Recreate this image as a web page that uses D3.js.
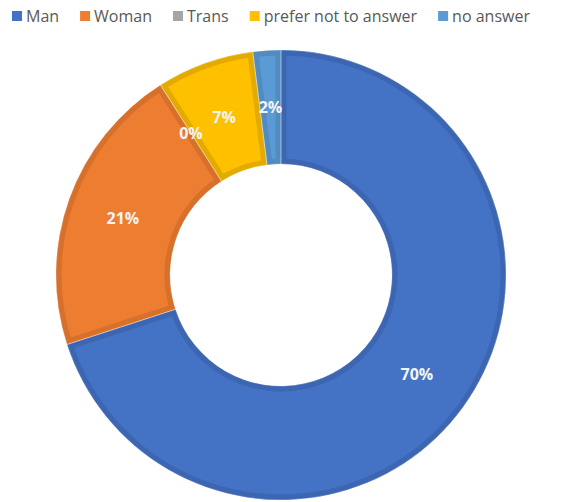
<!DOCTYPE html>
<html>
<head>
<meta charset="utf-8">
<script src="https://cdn.jsdelivr.net/npm/d3@7/dist/d3.min.js"></script>
<style>
  html, body { margin: 0; padding: 0; background: #fff; }
  svg { display: block; }
</style>
</head>
<body>
<svg id="chart" width="571" height="502"></svg>
<script>
// Gender breakdown of respondents (percent)
const categories = ["Man", "Woman", "Trans", "prefer not to answer", "no answer"];
const shares = [70, 21, 0, 7, 2];
const labels = ["70%", "21%", "0%", "7%", "2%"];
const fills = ["#4472C4", "#ED7D31", "#A5A5A5", "#FFC000", "#5B9BD5"];
const edges = ["#3D66B2", "#D6702B", "#959595", "#E3AB00", "#518BC0"];

const cx = 281, cy = 275;
const outerR = 225, innerR = 111;

const svg = d3.select("#chart");
const font = "'Open Sans', 'Liberation Sans', sans-serif";

const color = d3.scaleOrdinal().domain(categories).range(fills);
const edge = d3.scaleOrdinal().domain(categories).range(edges);

const data = categories.map((c, i) => ({ name: c, value: shares[i], label: labels[i] }));

const pie = d3.pie().value(d => d.value).sort(null);
const arc = d3.arc().innerRadius(innerR).outerRadius(outerR);
const arcs = pie(data);

const defs = svg.append("defs");
const g = svg.append("g").attr("transform", `translate(${cx},${cy})`);

// Each slice: flat fill plus a darker inset border (stroke clipped to the slice)
arcs.forEach((a, i) => {
  if (a.endAngle - a.startAngle <= 0) return;
  const id = "clip-" + i;
  defs.append("clipPath").attr("id", id)
    .append("path").attr("d", arc(a));
  g.append("path")
    .attr("d", arc(a))
    .attr("fill", color(a.data.name))
    .attr("stroke", edge(a.data.name))
    .attr("stroke-width", 11)
    .attr("stroke-linejoin", "miter")
    .attr("clip-path", `url(#${id})`);
});

// Fine light seam between neighbouring slices
arcs.forEach(a => {
  if (a.endAngle - a.startAngle <= 0) return;
  g.append("path")
    .attr("d", arc(a))
    .attr("fill", "none")
    .attr("stroke", "rgba(255,255,255,0.3)")
    .attr("stroke-width", 1);
});

// Value labels at slice centroids
g.selectAll("text.val")
  .data(arcs)
  .join("text")
  .attr("class", "val")
  .attr("transform", d => `translate(${arc.centroid(d)})`)
  .attr("text-anchor", "middle")
  .attr("dominant-baseline", "central")
  .attr("fill", "#F4F4F4")
  .attr("font-family", font)
  .attr("font-weight", 700)
  .attr("font-size", 16)
  .text(d => d.data.label);

// Legend across the top
const legend = svg.append("g").attr("font-family", font).attr("font-size", 16).attr("fill", "#595959");
let x = 12;
const ly = 16;
categories.forEach((c, i) => {
  legend.append("rect")
    .attr("x", x).attr("y", ly - 5).attr("width", 10).attr("height", 10)
    .attr("fill", color(c));
  const t = legend.append("text")
    .attr("x", x + 14).attr("y", ly)
    .attr("dominant-baseline", "central")
    .text(c);
  const w = t.node().getComputedTextLength();
  x = x + 14 + w + 21;
});
</script>
</body>
</html>
